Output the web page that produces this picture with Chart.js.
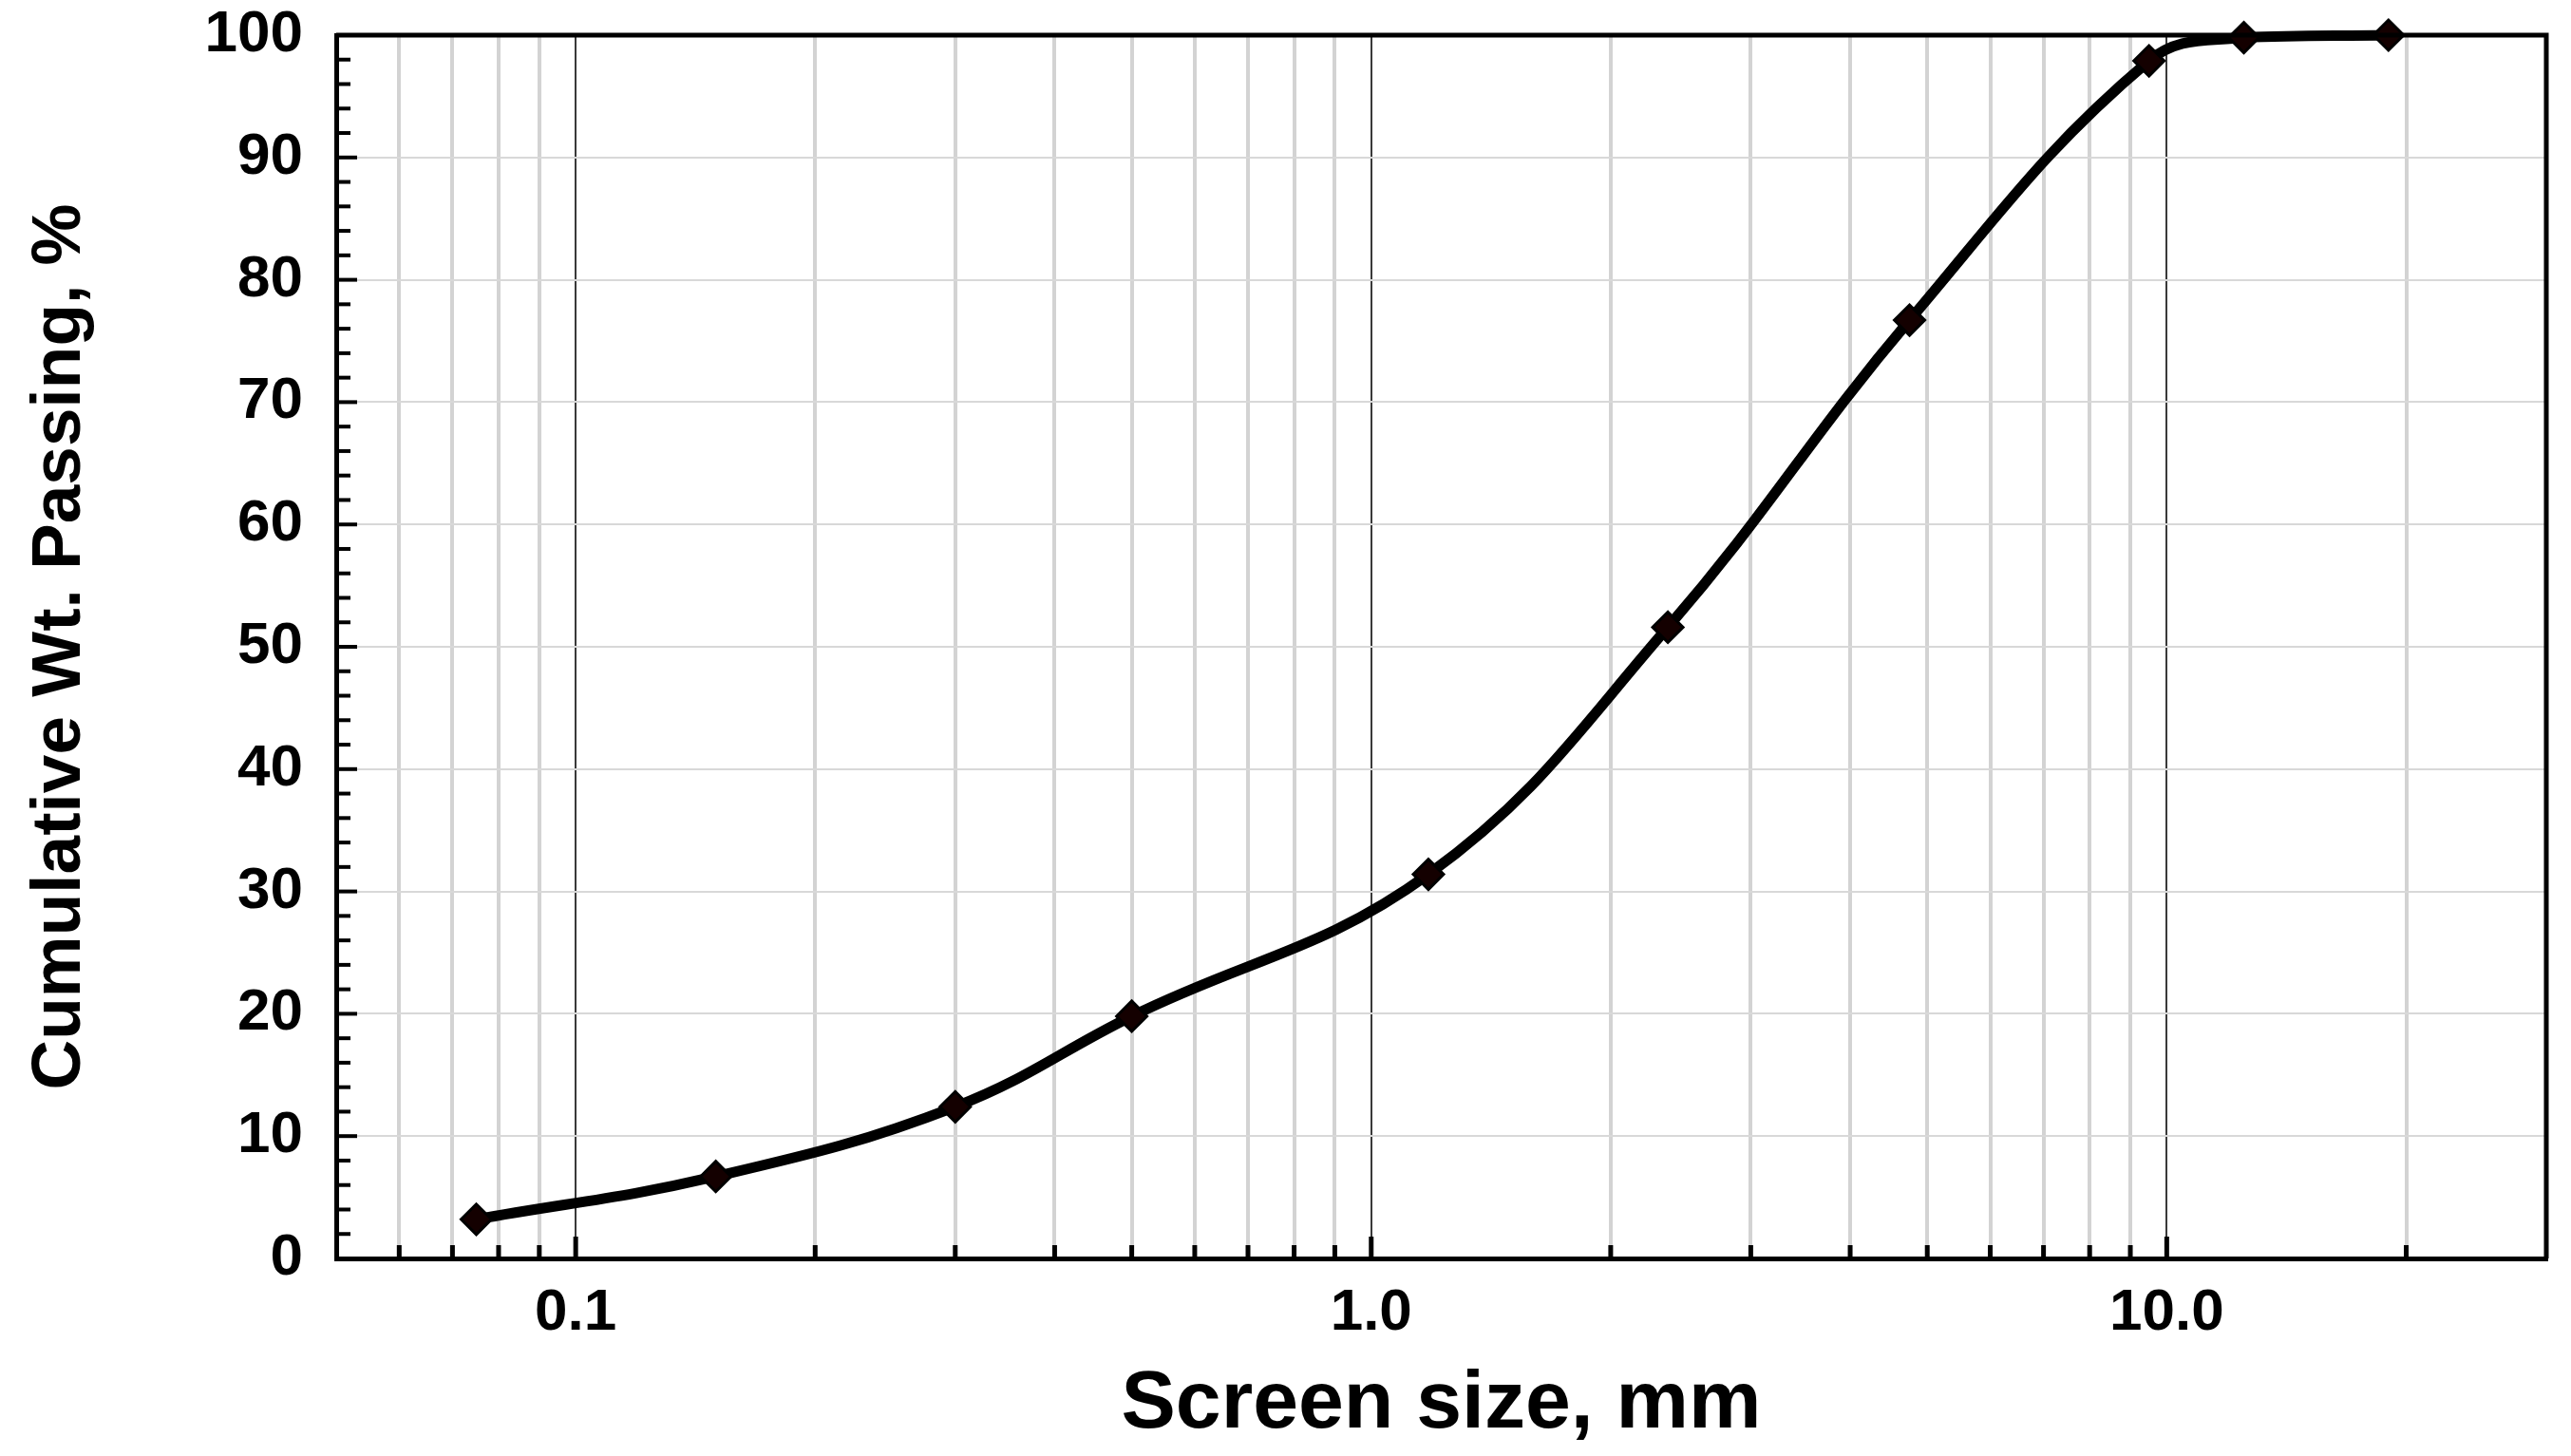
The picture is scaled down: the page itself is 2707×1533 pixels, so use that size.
<!DOCTYPE html>
<html>
<head>
<meta charset="utf-8">
<title>Cumulative Wt. Passing</title>
<script src="https://cdn.jsdelivr.net/npm/chart.js@4.4.1/dist/chart.umd.min.js"></script>
<style>
  html, body { margin: 0; padding: 0; background: #fff; }
  #wrap { width: 2707px; height: 1533px; position: relative; }
</style>
</head>
<body>
<div id="wrap"><canvas id="c"></canvas></div>
<script>
// sieve sizes (mm) and cumulative % passing
const sieveSizes = [0.075, 0.15, 0.3, 0.5, 1.18, 2.36, 4.75, 9.5, 12.5, 19];
const passing = [3.2, 6.7, 12.4, 19.8, 31.4, 51.6, 76.7, 97.9, 99.8, 100];

// log axis grid / tick positions
const xTickValues = [0.06, 0.07, 0.08, 0.09, 0.1, 0.2, 0.3, 0.4, 0.5, 0.6, 0.7, 0.8, 0.9,
  1, 2, 3, 4, 5, 6, 7, 8, 9, 10, 20];
const xMajor = [0.1, 1, 10];
const xMajorLabels = ["0.1", "1.0", "10.0"];
const yMinorStep = 2;

const FONT = "'Liberation Sans', Arial, sans-serif";
const INK = "#000";

// inward tick marks + top/right frame, all placed through the chart's scales
const frame = {
  id: "frame",
  afterDraw(chart) {
    const { ctx, chartArea: a, scales: { x, y } } = chart;
    ctx.save();
    ctx.strokeStyle = INK;
    ctx.lineCap = "butt";
    ctx.lineWidth = 5;
    ctx.beginPath();
    ctx.moveTo(a.left, a.top); ctx.lineTo(a.right, a.top); ctx.lineTo(a.right, a.bottom);
    ctx.stroke();
    xTickValues.forEach((v) => {
      const px = x.getPixelForValue(v);
      const len = xMajor.includes(v) ? 23 : 14;
      ctx.beginPath(); ctx.moveTo(px, a.bottom); ctx.lineTo(px, a.bottom - len); ctx.stroke();
    });
    ctx.lineWidth = 4;
    for (let v = yMinorStep; v < 100; v += yMinorStep) {
      const py = y.getPixelForValue(v);
      const len = v % 10 === 0 ? 22 : 15;
      ctx.beginPath(); ctx.moveTo(a.left, py); ctx.lineTo(a.left + len, py); ctx.stroke();
    }
    ctx.restore();
  },
};

new Chart(document.getElementById("c"), {
  type: "line",
  data: {
    datasets: [{
      data: sieveSizes.map((s, i) => ({ x: s, y: passing[i] })),
      borderColor: INK, borderWidth: 11, tension: 0.4,
      pointStyle: "rectRot", pointRadius: 16, pointHoverRadius: 16,
      pointBackgroundColor: "#140000", pointBorderColor: INK, pointBorderWidth: 3,
      clip: false,
    }],
  },
  options: {
    responsive: true, maintainAspectRatio: false, animation: false,
    layout: { padding: { top: 37, right: 26, left: 0, bottom: 0 } },
    plugins: { legend: { display: false }, tooltip: { enabled: false } },
    scales: {
      x: {
        type: "logarithmic", min: 0.05, max: 30,
        afterBuildTicks: (s) => { s.ticks = xTickValues.map((v) => ({ value: v })); },
        afterFit: (s) => { s.height = 208; s.paddingLeft = 0; s.paddingRight = 0; },
        ticks: {
          autoSkip: false, maxRotation: 0, padding: 21, color: INK,
          font: { family: FONT, size: 62, weight: "bold" },
          callback: (v) => { const i = xMajor.indexOf(v); return i >= 0 ? xMajorLabels[i] : ""; },
        },
        grid: {
          drawTicks: false,
          color: (c) => (c.tick && xMajor.includes(c.tick.value) ? "#3a3a3a" : "#d3d3d3"),
          lineWidth: (c) => (c.tick && xMajor.includes(c.tick.value) ? 2 : 4),
        },
        border: { color: INK, width: 5 },
        title: {
          display: true, text: "Screen size, mm", color: INK,
          font: { family: FONT, size: 86, weight: "bold" }, padding: { top: 0, bottom: 2 },
        },
      },
      y: {
        min: 0, max: 100,
        afterFit: (s) => { s.width = 354; s.paddingTop = 0; s.paddingBottom = 0; },
        ticks: {
          stepSize: 10, padding: 35, color: INK,
          font: { family: FONT, size: 62, weight: "bold" },
        },
        grid: { drawTicks: false, color: "#d8d8d8", lineWidth: 2 },
        border: { color: INK, width: 5 },
        title: {
          display: true, text: "Cumulative Wt. Passing, %", color: INK,
          font: { family: FONT, size: 73, weight: "bold" }, padding: { top: 20, bottom: 0 },
        },
      },
    },
  },
  plugins: [frame],
});
</script>
</body>
</html>
